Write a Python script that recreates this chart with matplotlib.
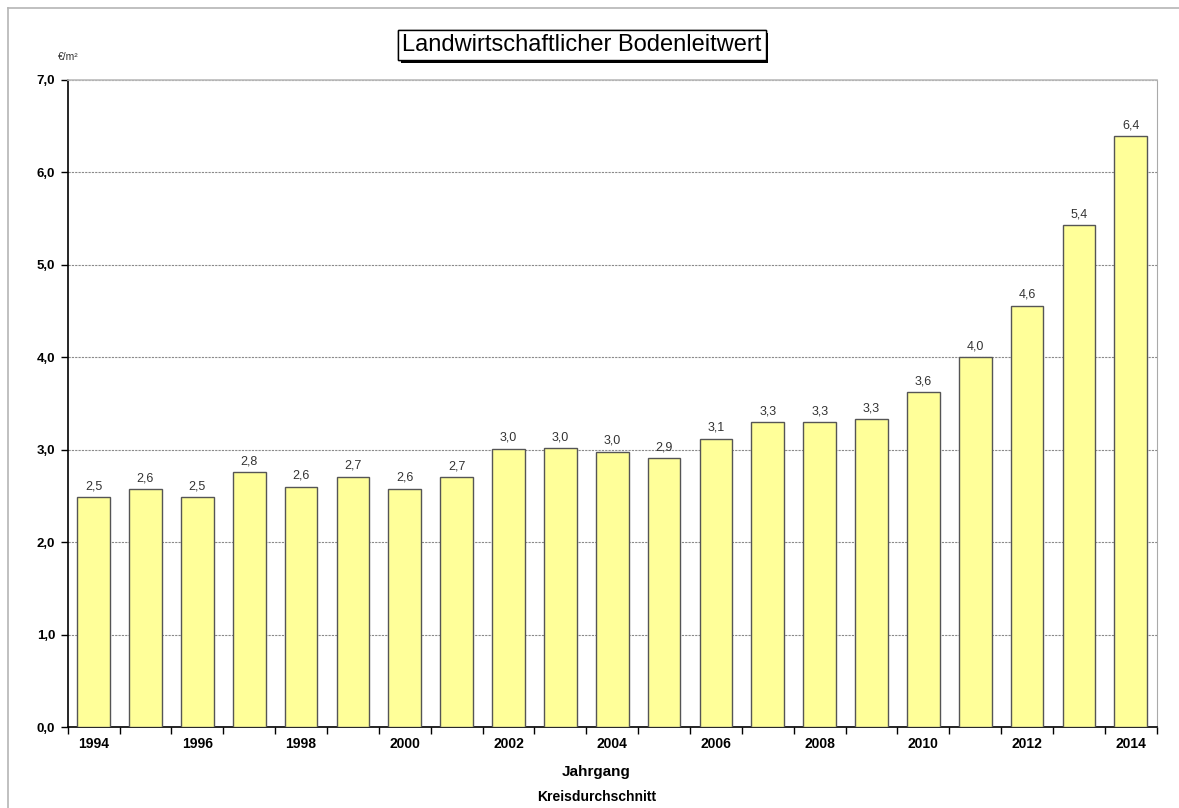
import matplotlib
matplotlib.use("Agg")
import matplotlib.pyplot as plt
from matplotlib.lines import Line2D
from matplotlib.ticker import FuncFormatter, FixedLocator
import matplotlib.patheffects as pe

plt.rcParams['font.family'] = ['Liberation Sans', 'DejaVu Sans']

# Landwirtschaftlicher Bodenleitwert, Kreisdurchschnitt (€/m²)
years = list(range(1994, 2015))
values = [2.49, 2.57, 2.49, 2.76, 2.60, 2.71, 2.58, 2.70, 3.01, 3.02, 2.98,
          2.91, 3.12, 3.30, 3.30, 3.33, 3.62, 4.00, 4.56, 5.43, 6.39]
y_ticks = [0, 1, 2, 3, 4, 5, 6, 7]

fig = plt.figure(figsize=(11.79, 8.08), dpi=100)
ax = fig.add_axes([0.0574, 0.1002, 0.9237, 0.8008])

x = list(range(len(years)))
ax.bar(x, values, width=0.63, color='#FFFF99', edgecolor='#555555',
       linewidth=1.0, zorder=3)

for xi, v in zip(x, values):
    ax.annotate(f"{v:.1f}".replace('.', ','), (xi, v), xytext=(0, 3.5),
                textcoords='offset points', ha='center', va='bottom',
                fontsize=9, color='#333333')

ax.set_xlim(-0.5, len(years) - 0.5)
ax.set_ylim(0, 7)
ax.yaxis.set_major_locator(FixedLocator(y_ticks))
ax.yaxis.set_major_formatter(FuncFormatter(lambda v, p: f"{v:.1f}".replace('.', ',')))
ax.grid(axis='y', color='#8a8a8a', linewidth=0.8, linestyle=(0, (2, 1)), zorder=0)

# category boundaries carry the ticks; every second year is labelled
ax.set_xticks([i - 0.5 for i in range(len(years) + 1)])
ax.set_xticklabels([])
ax.set_xticks(x, minor=True)
ax.set_xticklabels([str(y) if i % 2 == 0 else '' for i, y in enumerate(years)],
                   minor=True, fontsize=10, fontweight='bold')
ax.tick_params(axis='x', which='major', direction='out', length=5, width=1, color='black')
ax.tick_params(axis='x', which='minor', length=0, pad=7)
ax.tick_params(axis='y', direction='out', length=5, width=1, labelsize=9.5, pad=4)
for lab in ax.get_yticklabels():
    lab.set_fontweight('bold')

for side in ('left', 'bottom'):
    ax.spines[side].set_color('black')
    ax.spines[side].set_linewidth(1.2)
ax.spines['right'].set_color('#aaaaaa')
ax.spines['top'].set_color('#bbbbbb')
ax.spines['top'].set_linewidth(1.2)

fig.text(0.506, 0.045, 'Jahrgang', ha='center', va='center',
         fontsize=11, fontweight='bold')
fig.text(0.506, 0.013, 'Kreisdurchschnitt', ha='center', va='center',
         fontsize=10, fontweight='bold')
fig.text(0.049, 0.9295, '€/m²', ha='left', va='center', fontsize=7.5, color='#333333')

title = fig.text(0.4935, 0.944, 'Landwirtschaftlicher Bodenleitwert', ha='center',
                 va='center', fontsize=17,
                 bbox=dict(boxstyle='square,pad=0.17', facecolor='white',
                           edgecolor='black', linewidth=1.0))
title.get_bbox_patch().set_path_effects(
    [pe.withSimplePatchShadow(offset=(2, -2), shadow_rgbFace='black', alpha=1.0),
     pe.Normal()])

# thin page frame
fig.add_artist(Line2D([0.0068, 1.0], [0.990, 0.990], color='#b5b5b5', lw=1.2,
                      transform=fig.transFigure))
fig.add_artist(Line2D([0.0068, 0.0068], [0.0, 0.990], color='#b5b5b5', lw=1.2,
                      transform=fig.transFigure))

fig.savefig('out.png', dpi=100)
